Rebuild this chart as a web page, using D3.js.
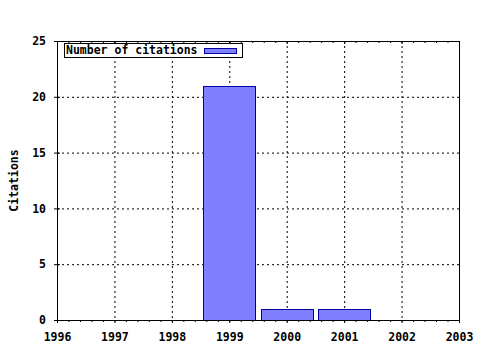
<!DOCTYPE html>
<html>
<head>
<meta charset="utf-8">
<script src="https://cdn.jsdelivr.net/npm/d3@7"></script>
<style>
  body { margin: 0; background: #fff; }
  text { font-family: "DejaVu Sans Mono", monospace; font-weight: bold; font-size: 11.5px; fill: #000; }
</style>
</head>
<body>
<svg id="chart" width="480" height="350"></svg>
<script>
// data
const years = [1999, 2000, 2001];
const citations = [21, 1, 1];
const xTicks = [1996, 1997, 1998, 1999, 2000, 2001, 2002, 2003];
const yTicks = [0, 5, 10, 15, 20, 25];
const seriesName = 'Number of citations';

const svg = d3.select('#chart');
const margin = { left: 57, right: 21, top: 41, bottom: 30 };
const width = +svg.attr('width');
const height = +svg.attr('height');
const innerWidth = width - margin.left - margin.right;
const innerHeight = height - margin.top - margin.bottom;

const xScale = d3.scaleLinear().domain([1996, 2003]).range([0, innerWidth]);
const yScale = d3.scaleLinear().domain([0, 25]).range([innerHeight, 0]);

const g = svg.append('g')
  .attr('transform', `translate(${margin.left},${margin.top})`);

// grid - dotted
g.append('g').selectAll('line.vgrid')
  .data(xTicks.slice(1, -1))
  .enter().append('line')
    .attr('x1', d => xScale(d) + 0.5).attr('x2', d => xScale(d) + 0.5)
    .attr('y1', 0).attr('y2', innerHeight)
    .attr('stroke', '#000').attr('stroke-dasharray', '2,3');

g.append('g').selectAll('line.hgrid')
  .data(yTicks.slice(1, -1))
  .enter().append('line')
    .attr('y1', d => yScale(d) + 0.5).attr('y2', d => yScale(d) + 0.5)
    .attr('x1', 0).attr('x2', innerWidth)
    .attr('stroke', '#000').attr('stroke-dasharray', '2,3');

// bars
const barW = xScale(1996.9) - xScale(1996);
g.selectAll('rect.bar').data(years)
  .enter().append('rect')
    .attr('class', 'bar')
    .attr('x', (d, i) => Math.round(xScale(d) - barW / 2) + 0.5)
    .attr('y', (d, i) => Math.round(yScale(citations[i])) + 0.5)
    .attr('width', Math.round(barW))
    .attr('height', (d, i) => Math.round(innerHeight - yScale(citations[i])))
    .attr('fill', '#8080ff')
    .attr('stroke', '#0000a0');

// minor ticks along x (every 0.2 year)
const minor = d3.range(1996, 2003.001, 0.2);

// bottom axis
const xAxis = d3.axisBottom(xScale).tickValues(xTicks).tickFormat(d3.format('d'))
  .tickSizeInner(3).tickSizeOuter(0).tickPadding(10);
const xAxisG = g.append('g').attr('transform', `translate(0,${innerHeight})`).call(xAxis);
xAxisG.select('.domain').attr('stroke-width', 1.2);
xAxisG.selectAll('text').style('font-size', null);
xAxisG.append('g').selectAll('line').data(minor)
  .enter().append('line')
    .attr('x1', d => xScale(d) + 0.5).attr('x2', d => xScale(d) + 0.5)
    .attr('y1', 0).attr('y2', 2).attr('stroke', '#000');

// top axis (mirror)
const topG = g.append('g').call(d3.axisTop(xScale).tickValues(xTicks).tickFormat('').tickSizeInner(-3).tickSizeOuter(0));
topG.append('g').selectAll('line').data(minor)
  .enter().append('line')
    .attr('x1', d => xScale(d) + 0.5).attr('x2', d => xScale(d) + 0.5)
    .attr('y1', 0).attr('y2', 2).attr('stroke', '#000');

// left axis
const yAxis = d3.axisLeft(yScale).tickValues(yTicks).tickSizeInner(3).tickSizeOuter(0).tickPadding(8);
const yAxisG = g.append('g').call(yAxis);
yAxisG.selectAll('.tick line').attr('x2', 3).attr('x1', -3);
yAxisG.selectAll('text').style('font-size', null);

// right border
g.append('line')
  .attr('x1', innerWidth + 0.5).attr('x2', innerWidth + 0.5)
  .attr('y1', 0).attr('y2', innerHeight)
  .attr('stroke', '#000');

g.selectAll('.domain').attr('stroke', '#000');
svg.selectAll('.tick text').attr('font-family', null);

// y label
svg.append('text')
  .attr('transform', `translate(18,${margin.top + innerHeight / 2}) rotate(-90)`)
  .attr('text-anchor', 'middle')
  .text('Citations');

// legend
const legend = g.append('g').attr('transform', 'translate(7,2)');
legend.append('rect')
  .attr('x', 0.5).attr('y', 0.5).attr('width', 178).attr('height', 14)
  .attr('fill', '#fff').attr('stroke', '#000');
legend.append('text').attr('x', 2).attr('y', 11).text(seriesName);
legend.append('rect')
  .attr('x', 140.5).attr('y', 5.5).attr('width', 32).attr('height', 5)
  .attr('fill', '#8080ff').attr('stroke', '#0000a0');
</script>
</body>
</html>
